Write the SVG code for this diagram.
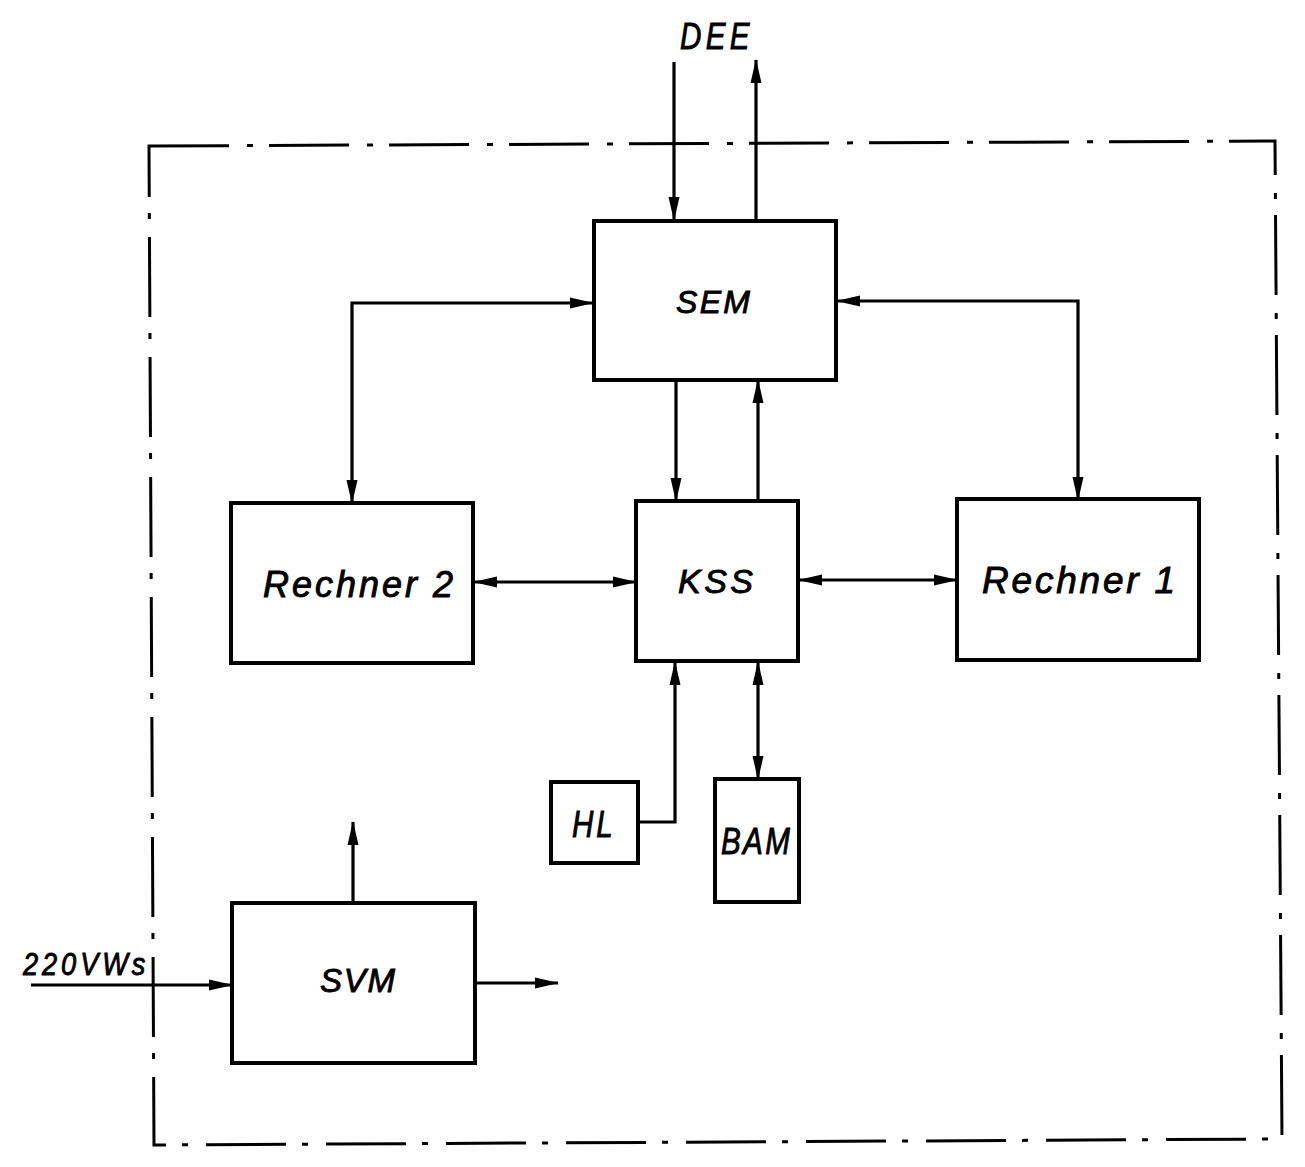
<svg xmlns="http://www.w3.org/2000/svg" width="1305" height="1167" viewBox="0 0 1305 1167">
<defs>
<marker id="ah" markerUnits="userSpaceOnUse" markerWidth="24" markerHeight="12" refX="23" refY="6" orient="auto-start-reverse">
<path d="M0,0.5 L24,6 L0,11.5 z" fill="#000"/>
</marker>
<style>
.box{fill:#fff;stroke:#000;stroke-width:4}
.ln{fill:none;stroke:#000;stroke-width:3.2}
.lbl{font-family:"Liberation Sans",Arial,sans-serif;font-style:italic;fill:#000;stroke:#000;stroke-width:0.9}
.border{fill:none;stroke:#000;stroke-width:3;stroke-dasharray:80 18 6 16}
</style>
</defs>
<rect width="1305" height="1167" fill="#fff"/>
<path class="border" d="M149,146 L1275,141 L1282,1139 L154,1145 Z"/>
<g id="connectors">
<path class="ln" d="M674,62 L674,220" marker-end="url(#ah)"/>
<path class="ln" d="M756,220 L756,60" marker-end="url(#ah)"/>
<path class="ln" d="M352,503 L352,303 L593,303" marker-start="url(#ah)" marker-end="url(#ah)"/>
<path class="ln" d="M1078,500 L1078,301 L837,301" marker-start="url(#ah)" marker-end="url(#ah)"/>
<path class="ln" d="M676,380 L676,501" marker-end="url(#ah)"/>
<path class="ln" d="M758,501 L758,380" marker-end="url(#ah)"/>
<path class="ln" d="M474,582 L636,582" marker-start="url(#ah)" marker-end="url(#ah)"/>
<path class="ln" d="M799,580 L957,580" marker-start="url(#ah)" marker-end="url(#ah)"/>
<path class="ln" d="M638,822 L675,822 L675,662" marker-end="url(#ah)"/>
<path class="ln" d="M758,662 L758,779" marker-start="url(#ah)" marker-end="url(#ah)"/>
<path class="ln" d="M353,903 L353,822" marker-end="url(#ah)"/>
<path class="ln" d="M476,983 L558,983" marker-end="url(#ah)"/>
<path class="ln" d="M31,985 L232,985" marker-end="url(#ah)"/>
</g>
<g id="DEE"><text class="lbl" transform="translate(680,49) scale(0.8,1)" x="0" y="0" font-size="37" textLength="87" lengthAdjust="spacing">DEE</text></g>
<g id="SEM"><rect class="box" x="594" y="221" width="242" height="159"/><text class="lbl" x="676" y="313" font-size="32" textLength="74" lengthAdjust="spacing">SEM</text></g>
<g id="Rechner2"><rect class="box" x="231" y="503" width="242" height="160"/><text class="lbl" x="263" y="597" font-size="36" textLength="190" lengthAdjust="spacing">Rechner 2</text></g>
<g id="KSS"><rect class="box" x="636" y="501" width="162" height="160"/><text class="lbl" x="678" y="593" font-size="34" textLength="75" lengthAdjust="spacing">KSS</text></g>
<g id="Rechner1"><rect class="box" x="957" y="499" width="242" height="161"/><text class="lbl" x="982" y="593" font-size="37" textLength="193" lengthAdjust="spacing">Rechner 1</text></g>
<g id="HL"><rect class="box" x="551" y="782" width="87" height="81"/><text class="lbl" transform="translate(572,837) scale(0.8,1)" x="0" y="0" font-size="37" textLength="51" lengthAdjust="spacing">HL</text></g>
<g id="BAM"><rect class="box" x="715" y="779" width="84" height="123"/><text class="lbl" transform="translate(721,854) scale(0.8,1)" x="0" y="0" font-size="37" textLength="86" lengthAdjust="spacing">BAM</text></g>
<g id="SVM"><rect class="box" x="232" y="903" width="243" height="160"/><text class="lbl" x="320" y="992" font-size="33" textLength="75" lengthAdjust="spacing">SVM</text></g>
<g id="input220"><text class="lbl" transform="translate(23,975) scale(0.85,1)" x="0" y="0" font-size="32" textLength="144" lengthAdjust="spacing">220VWs</text></g>
</svg>
